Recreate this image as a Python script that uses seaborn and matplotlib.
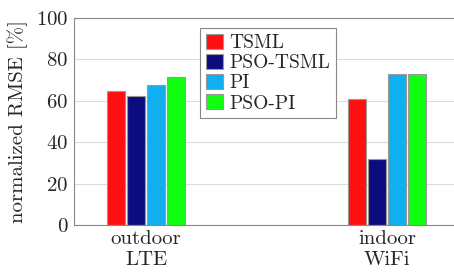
import matplotlib
matplotlib.use("Agg")
import matplotlib.pyplot as plt
import seaborn as sns
import pandas as pd

# values
scenarios = ["outdoor\nLTE", "indoor\nWiFi"]
methods = ["TSML", "PSO-TSML", "PI", "PSO-PI"]
outdoor_rmse = [64.7, 62.1, 67.4, 71.2]
indoor_rmse = [60.8, 31.6, 72.7, 72.7]
colors = ["#FF1010", "#0C0C80", "#10B0F0", "#10FF10"]

df = pd.DataFrame({
    "scenario": [scenarios[0]] * 4 + [scenarios[1]] * 4,
    "method": methods * 2,
    "rmse": outdoor_rmse + indoor_rmse,
})

sns.set_style("white")
plt.rcParams["font.family"] = ["cmr10", "DejaVu Serif"]
plt.rcParams["axes.formatter.use_mathtext"] = True

fig = plt.figure(figsize=(4.54, 2.73), dpi=100)
ax = fig.add_axes([0.163, 0.176, 0.837, 0.759])

sns.barplot(data=df, x="scenario", y="rmse", hue="method", palette=colors,
            saturation=1, width=0.33, gap=0.1, edgecolor="#999999", linewidth=0.8,
            ax=ax, legend=True)

ax.set_xlim(-0.299, 1.278)
ax.set_ylim(0, 100)
ax.set_yticks([0, 20, 40, 60, 80, 100])
ax.yaxis.grid(True, color="#dddddd", linewidth=0.8)
ax.set_axisbelow(True)
ax.set_xlabel("")
ax.set_ylabel("normalized RMSE [%]", fontsize=15, labelpad=6)
ax.tick_params(axis="both", labelsize=15, length=2, color="#888888", pad=2)
ax.tick_params(axis="x", length=0, pad=4)
for side in ["left", "bottom", "top"]:
    ax.spines[side].set_color("#888888")
ax.spines["right"].set_visible(False)

leg = ax.legend(loc="upper left", bbox_to_anchor=(0.332, 0.95), borderaxespad=0,
                fontsize=14, fancybox=False, edgecolor="#888888", framealpha=1,
                handlelength=0.9, handleheight=0.8, handletextpad=0.3,
                labelspacing=0.1, borderpad=0.3)
leg.get_frame().set_linewidth(0.8)

fig.savefig("out.png", dpi=100)
